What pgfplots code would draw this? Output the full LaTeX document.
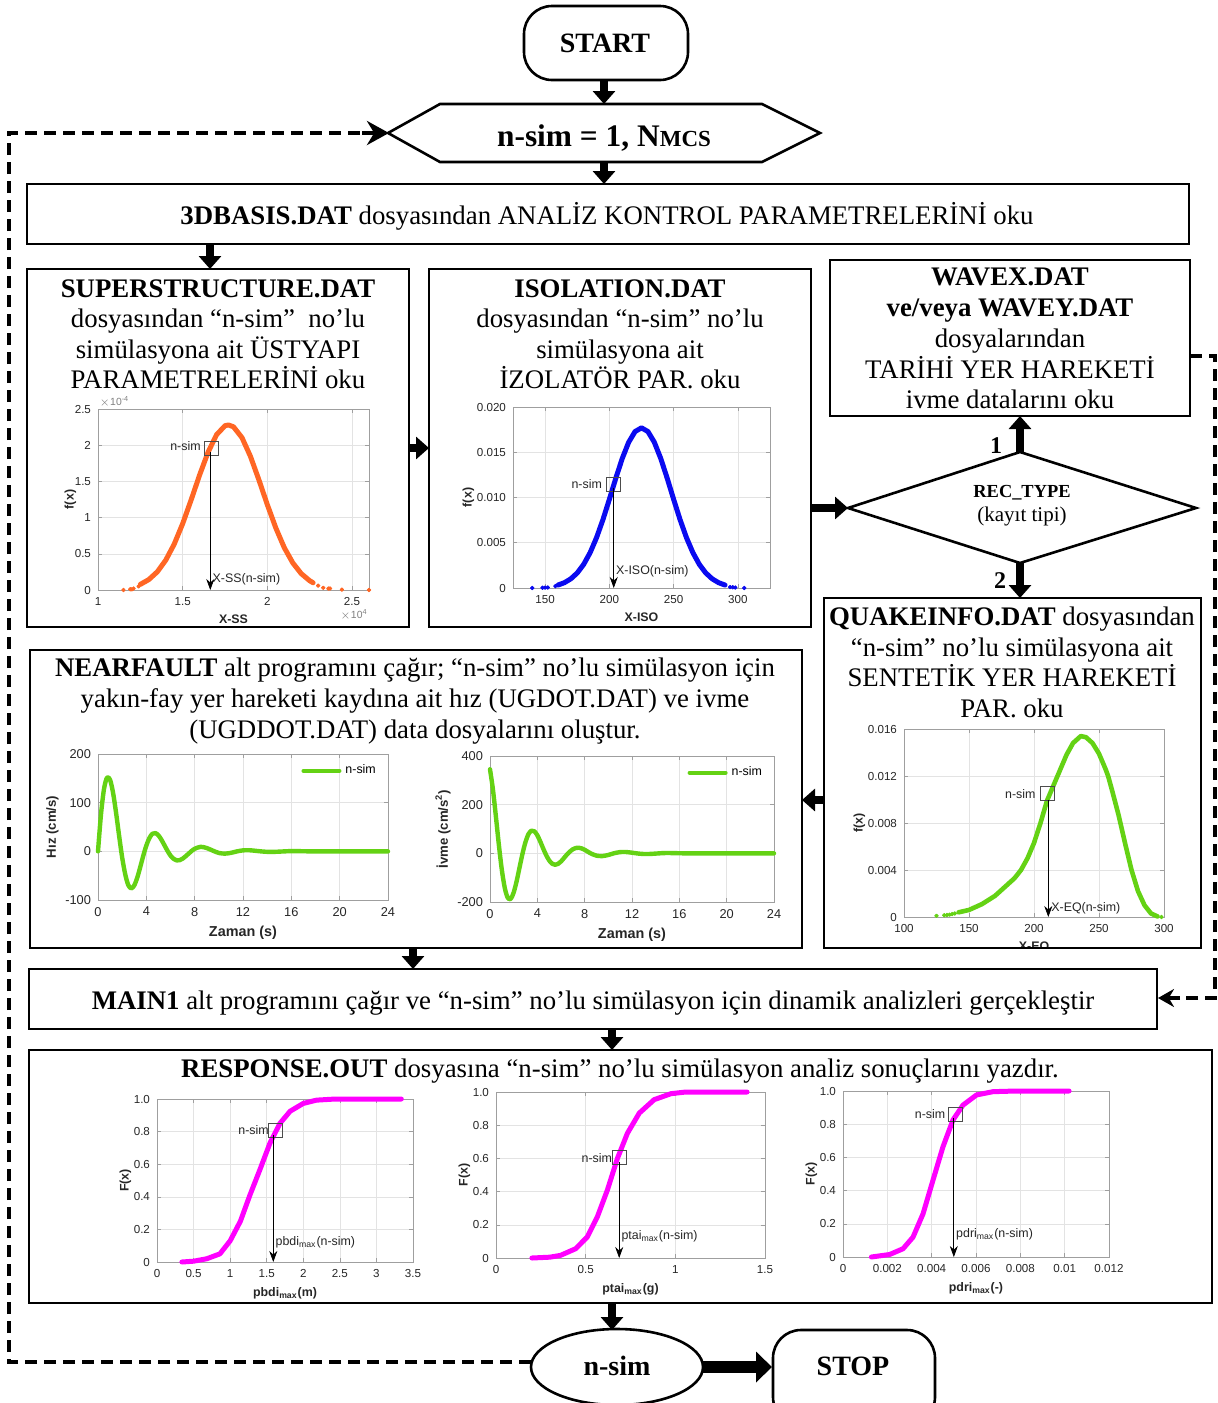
\documentclass[border=0pt]{standalone}
\usepackage{fontspec}
\setmainfont{Liberation Serif}
\newfontfamily\pf{Liberation Sans}
\usepackage{pgfplots}
\pgfplotsset{compat=1.18}
\usetikzlibrary{arrows.meta}

\definecolor{ssor}{RGB}{255,102,36}
\definecolor{isob}{RGB}{10,10,240}
\definecolor{eqg}{RGB}{100,210,20}
\definecolor{cdfm}{RGB}{255,0,255}
\definecolor{tk}{RGB}{38,38,38}

\pgfplotsset{
  mplot/.style={
    scale only axis, clip=false,
    scaled ticks=false,
    axis line style={gray!75, line width=0.4pt},
    grid=major,
    grid style={gray!22, line width=0.3pt},
    major tick style={gray!75, line width=0.3pt},
    tick align=inside,
    major tick length=2pt,
    tick label style={font=\pf\fontsize{5.8}{6.5}\selectfont, text=tk},
    xlabel style={font=\pf\bfseries\fontsize{6.2}{7}\selectfont, text=tk, yshift=2pt},
    ylabel style={font=\pf\bfseries\fontsize{6.2}{7}\selectfont, text=tk, yshift=-5.5pt},
    axis background/.style={fill=white},
    every axis plot/.append style={line join=round, line cap=round},
  },
  thplot/.style={mplot,
    tick label style={font=\pf\fontsize{6.4}{7}\selectfont, text=tk},
    xlabel style={font=\pf\bfseries\fontsize{7.2}{8}\selectfont, text=tk, yshift=0pt},
    ylabel style={font=\pf\bfseries\fontsize{6.6}{7}\selectfont, text=tk, yshift=2pt},
    legend style={draw=none, fill=none, at={(0.98,0.97)}, anchor=north east, font=\pf\fontsize{6.2}{7}\selectfont, inner sep=1pt},
    legend image code/.code={\draw[#1, line width=2pt] (0pt,0pt) -- (18pt,0pt);},
  },
}
\tikzset{
  nsim/.style={draw=gray!60!black, line width=0.35pt, minimum size=7pt, inner sep=0pt},
  nlab/.style={font=\pf\fontsize{6.2}{7}\selectfont, text=tk, inner sep=1pt},
  narr/.style={line width=0.35pt, -{Stealth[width=4pt,length=5.5pt]}},
  bx/.style={draw=black, line width=1.3pt},
  barr/.style={line width=4pt, -{Triangle[width=11pt,length=6.5pt]}},
  dsh/.style={line width=2pt, dash pattern=on 6pt off 3.5pt},
  t13/.style={font=\fontsize{13.4}{15}\selectfont, anchor=base, inner sep=0pt},
}

\begin{document}
\begin{tikzpicture}[x=0.5pt,y=-0.5pt]
\path[use as bounding box] (0,0) rectangle (1217,1403);

% ---------------- SUPERSTRUCTURE pdf ----------------
\begin{axis}[mplot, at={(49pt,-295pt)}, anchor=south west, width=135.5pt, height=90.5pt,
  xmin=1, xmax=2.6, ymin=0, ymax=2.5,
  xtick={1,1.5,2,2.5}, xticklabels={1,1.5,2,2.5},
  ytick={0,0.5,1,1.5,2,2.5}, yticklabels={0,0.5,1,1.5,2,2.5},
  xlabel={X-SS}, ylabel={f(x)}, ylabel style={yshift=-2pt}]
\addplot[ssor, line width=2.5pt] coordinates {
(1.25,0.078) (1.30,0.144) (1.35,0.251) (1.40,0.412) (1.45,0.634) (1.50,0.917)
(1.55,1.245) (1.60,1.589) (1.65,1.904) (1.70,2.145) (1.75,2.269) (1.77,2.28)
(1.80,2.254) (1.85,2.105) (1.90,1.846) (1.95,1.521) (2.00,1.177) (2.05,0.856)
(2.10,0.584) (2.15,0.375) (2.20,0.226) (2.25,0.128) (2.27,0.100)};
\addplot[ssor, only marks, mark=*, mark size=0.9pt] coordinates {
(1.15,0.0) (1.19,0.01) (1.20,0.01) (1.21,0.02) (1.24,0.05) (2.30,0.06) (2.33,0.03)
(2.36,0.02) (2.37,0.02) (2.44,0.005) (2.60,0.0)};
\node[nsim] at (axis cs:1.669,1.957) {};
\node[nlab, anchor=east] at (axis cs:1.62,1.99) {n-sim};
\draw[narr] (axis cs:1.663,1.90) -- (axis cs:1.663,0);
\node[nlab, anchor=west] at (axis cs:1.663,0.15) {X-SS(n-sim)};
\node[font=\pf\fontsize{5.2}{6}\selectfont, text=gray, anchor=south west, inner sep=0.5pt] at (rel axis cs:0,1) {$\times$10\textsuperscript{-4}};
\node[font=\pf\fontsize{5.2}{6}\selectfont, text=gray, anchor=north east, inner sep=0.5pt] at (rel axis cs:1,0) [yshift=-9pt] {$\times$10\textsuperscript{4}};
\end{axis}

% ---------------- ISOLATION pdf ----------------
\begin{axis}[mplot, at={(256.5pt,-294pt)}, anchor=south west, width=128.5pt, height=90.5pt,
  xmin=125, xmax=325, ymin=0, ymax=0.02,
  xtick={150,200,250,300}, xticklabels={150,200,250,300},
  ytick={0,0.005,0.01,0.015,0.02}, yticklabels={0,0.005,0.010,0.015,0.020},
  xlabel={X-ISO}, ylabel={f(x)}]
\addplot[isob, line width=2.5pt] coordinates {
(160,0.000327) (165,0.000589) (170,0.001014) (175,0.001666) (180,0.002611)
(185,0.003903) (190,0.005560) (195,0.007558) (200,0.009802) (205,0.012128)
(210,0.014305) (215,0.016103) (220,0.017288) (225,0.0177) (230,0.017288)
(235,0.016103) (240,0.014305) (245,0.012128) (250,0.009802) (255,0.007558)
(260,0.005560) (265,0.003903) (270,0.002611) (275,0.001666) (280,0.001014)
(285,0.000589) (290,0.000327)};
\addplot[isob, only marks, mark=*, mark size=0.9pt] coordinates {
(140,0.0) (148,0.00003) (150,0.00004) (152,0.00005) (158,0.0002) (294,0.0001)
(296,0.00008) (298,0.00005) (305,0.0)};
\node[nsim] at (axis cs:203,0.0115) {};
\node[nlab, anchor=east] at (axis cs:196,0.0115) {n-sim};
\draw[narr] (axis cs:203.4,0.0110) -- (axis cs:203.4,0);
\node[nlab, anchor=west] at (axis cs:203.4,0.0018) {X-ISO(n-sim)};
\end{axis}

% ---------------- QUAKE pdf ----------------
\begin{axis}[mplot, at={(452pt,-458.5pt)}, anchor=south west, width=130pt, height=94pt,
  xmin=100, xmax=300, ymin=0, ymax=0.016,
  xtick={100,150,200,250,300}, xticklabels={100,150,200,250,300},
  ytick={0,0.004,0.008,0.012,0.016}, yticklabels={0,0.004,0.008,0.012,0.016},
  xlabel={X-EQ}, ylabel={f(x)}]
\addplot[eqg, line width=2.3pt] coordinates {
(142,0.0004) (150,0.0006) (160,0.0011) (170,0.0018) (180,0.0028) (185,0.0033)
(190,0.0040) (195,0.0050) (200,0.0063) (205,0.0080) (210,0.0099) (215,0.0112)
(220,0.0125) (225,0.0138) (230,0.0148) (236,0.0154) (240,0.0153) (245,0.0148)
(250,0.0139) (255,0.0126) (257,0.0120) (260,0.0108) (265,0.0087) (270,0.0063)
(275,0.0040) (280,0.0022) (285,0.0010) (290,0.0003) (295,0.00005)};
\addplot[eqg, only marks, mark=*, mark size=0.9pt] coordinates {
(125,0.0001) (131,0.00015) (133,0.00017) (135,0.0002) (137,0.00025) (139,0.0003) (298,0.0)};
\node[nsim] at (axis cs:210.4,0.0105) {};
\node[nlab, anchor=east] at (axis cs:203,0.0105) {n-sim};
\draw[narr] (axis cs:211,0.0100) -- (axis cs:211,0);
\node[nlab, anchor=west] at (axis cs:211.5,0.0007) {X-EQ(n-sim)};
\end{axis}

% ---------------- velocity ----------------
\begin{axis}[thplot, at={(49pt,-450pt)}, anchor=south west, width=145pt, height=73pt,
  xmin=0, xmax=24, ymin=-100, ymax=200,
  xtick={0,4,8,12,16,20,24}, xticklabels={0,4,8,12,16,20,24},
  ytick={-100,0,100,200}, yticklabels={-100,0,100,200},
  xlabel={Zaman (s)}, ylabel={Hız (cm/s)}]
\addplot[eqg, line width=2.2pt, smooth] coordinates {
(0,0) (0.25,76.7) (0.5,128.6) (0.75,151.6) (1,146.9) (1.25,119.9) (1.5,78.5)
(1.75,31.5) (2,-12.5) (2.25,-46.8) (2.5,-69.0) (2.75,-76.1) (3,-70.0) (3.25,-54.0)
(3.5,-32.0) (3.75,-8.8) (4,11.9) (4.25,27.2) (4.5,36.1) (4.75,37.5) (5,32.9)
(5.25,23.8) (5.5,12.5) (5.75,1.1) (6,-8.7) (6.25,-15.3) (6.5,-18.5) (6.75,-18.3)
(7,-15.2) (7.25,-10.2) (7.5,-4.7) (7.75,0.9) (8,5.3) (8.5,9.3) (9,6.8) (9.5,1.5)
(10,-3.3) (10.5,-4.7) (11,-3.1) (11.5,-0.1) (12,2.0) (12.5,2.3) (13,1.2)
(13.5,-0.1) (14,-1.0) (14.5,-1.1) (15,-0.6) (16,0.5) (17,0.2) (18,-0.2) (19,0)
(24,0)};
\addlegendentry{n-sim}
\end{axis}

% ---------------- acceleration ----------------
\begin{axis}[thplot, at={(245pt,-451pt)}, anchor=south west, width=142pt, height=73pt,
  xmin=0, xmax=24, ymin=-200, ymax=400,
  xtick={0,4,8,12,16,20,24}, xticklabels={0,4,8,12,16,20,24},
  ytick={-200,0,200,400}, yticklabels={-200,0,200,400},
  xlabel={Zaman (s)}, ylabel={İvme (cm/s\textsuperscript{2})}]
\addplot[eqg, line width=2.2pt, smooth] coordinates {
(0,345.4) (0.25,261.7) (0.5,150.8) (0.75,34.5) (1,-68.0) (1.25,-142.5) (1.5,-182.6)
(1.75,-187.1) (2,-161.0) (2.25,-114.5) (2.5,-57.4) (2.75,-0.8) (3,46.7) (3.25,78.9)
(3.5,93.2) (3.75,90.6) (4,74.1) (4.25,48.5) (4.5,19.3) (4.75,-7.5) (5,-29.0)
(5.25,-42.6) (5.5,-47.0) (5.75,-43.2) (6,-33.4) (6.25,-19.4) (6.5,-5.1) (6.75,7.4)
(7,16.7) (7.25,22.0) (7.5,23.1) (7.75,20.2) (8,14.6) (8.5,0.1) (9,-9.5) (9.5,-11.2)
(10,-6.6) (10.5,0.6) (11,5.1) (11.5,5.4) (12,2.6) (12.5,-0.7) (13,-2.7) (13.5,-2.5)
(14,-1.0) (14.5,0.6) (15,1.4) (16,0.4) (17,-0.4) (18,0) (24,0)};
\addlegendentry{n-sim}
\end{axis}

% ---------------- CDF pbdi ----------------
\begin{axis}[mplot, at={(78.5pt,-631pt)}, anchor=south west, width=128pt, height=81.5pt,
  xmin=0, xmax=3.5, ymin=0, ymax=1,
  xtick={0,0.5,1,1.5,2,2.5,3,3.5}, xticklabels={0,0.5,1,1.5,2,2.5,3,3.5},
  ytick={0,0.2,0.4,0.6,0.8,1}, yticklabels={0,0.2,0.4,0.6,0.8,1.0},
  xlabel={pbdi\textsubscript{max}(m)}, ylabel={F(x)}]
\addplot[cdfm, line width=2.5pt] coordinates {
(0.34,0.0) (0.5,0.005) (0.68,0.02) (0.86,0.05) (1.0,0.13) (1.14,0.25) (1.27,0.41)
(1.41,0.57) (1.545,0.73) (1.68,0.85) (1.82,0.925) (2.0,0.973) (2.18,0.993)
(2.4,0.999) (2.6,1.0) (3.34,1.0)};
\node[nsim] at (axis cs:1.618,0.807) {};
\node[nlab, anchor=east] at (axis cs:1.56,0.807) {n-sim};
\draw[narr] (axis cs:1.59,0.78) -- (axis cs:1.59,0);
\node[nlab, anchor=west] at (axis cs:1.59,0.12) {pbdi\textsubscript{max}(n-sim)};
\end{axis}

% ---------------- CDF ptai ----------------
\begin{axis}[mplot, at={(248pt,-629pt)}, anchor=south west, width=134.5pt, height=83pt,
  xmin=0, xmax=1.5, ymin=0, ymax=1,
  xtick={0,0.5,1,1.5}, xticklabels={0,0.5,1,1.5},
  ytick={0,0.2,0.4,0.6,0.8,1}, yticklabels={0,0.2,0.4,0.6,0.8,1.0},
  xlabel={ptai\textsubscript{max}(g)}, ylabel={F(x)}]
\addplot[cdfm, line width=2.5pt] coordinates {
(0.2,0) (0.3,0.005) (0.36,0.016) (0.444,0.056) (0.509,0.127) (0.565,0.248)
(0.621,0.409) (0.677,0.6) (0.733,0.752) (0.799,0.873) (0.882,0.954) (0.976,0.99)
(1.05,0.999) (1.15,1.0) (1.4,1.0)};
\node[nsim] at (axis cs:0.687,0.605) {};
\node[nlab, anchor=east] at (axis cs:0.66,0.605) {n-sim};
\draw[narr] (axis cs:0.687,0.58) -- (axis cs:0.687,0);
\node[nlab, anchor=west] at (axis cs:0.687,0.13) {ptai\textsubscript{max}(n-sim)};
\end{axis}

% ---------------- CDF pdri ----------------
\begin{axis}[mplot, at={(421.5pt,-628.5pt)}, anchor=south west, width=133pt, height=83pt,
  xmin=0, xmax=0.012, ymin=0, ymax=1,
  xtick={0,0.002,0.004,0.006,0.008,0.01,0.012}, xticklabels={0,0.002,0.004,0.006,0.008,0.01,0.012},
  ytick={0,0.2,0.4,0.6,0.8,1}, yticklabels={0,0.2,0.4,0.6,0.8,1.0},
  xlabel={pdri\textsubscript{max}(-)}, ylabel={F(x)}]
\addplot[cdfm, line width=2.5pt] coordinates {
(0.00128,0.0) (0.0021,0.015) (0.00271,0.05) (0.00316,0.12) (0.00361,0.26)
(0.00406,0.463) (0.00451,0.664) (0.00496,0.825) (0.00541,0.915) (0.00602,0.976)
(0.00677,0.996) (0.0078,1.0) (0.0102,1.0)};
\node[nsim] at (axis cs:0.00505,0.861) {};
\node[nlab, anchor=east] at (axis cs:0.00472,0.861) {n-sim};
\draw[narr] (axis cs:0.0050,0.835) -- (axis cs:0.0050,0);
\node[nlab, anchor=west] at (axis cs:0.0050,0.137) {pdri\textsubscript{max}(n-sim)};
\end{axis}

% hide lower part of X-EQ label
\fill[white] (826,949) rectangle (1203,967);

% ---------------- flowchart shapes ----------------
\draw[bx, rounded corners=14pt] (524,6) rectangle (688,80);
\draw[bx] (388,133) -- (440,104) -- (762,104) -- (820,133) -- (762,162) -- (440,162) -- cycle;
\draw[bx] (27,184) rectangle (1189,244);
\draw[bx] (27,269) rectangle (409,627);
\draw[bx] (429,269) rectangle (811,627);
\draw[bx] (830,260) rectangle (1190,416);
\draw[bx] (848,508) -- (1020,452) -- (1196,508) -- (1020,563) -- cycle;
\draw[bx] (824,598) rectangle (1201,948);
\draw[bx] (30,650) rectangle (802,948);
\draw[bx] (29,969) rectangle (1157,1029);
\draw[bx] (29,1050) rectangle (1212,1303);
\draw[bx] (617,1367) ellipse [x radius=43pt, y radius=19pt];
\draw[bx, rounded corners=14pt] (773,1330) rectangle (935,1425);

% ---------------- arrows ----------------
\draw[barr] (604,80) -- (604,104);
\draw[barr] (604,162) -- (604,184);
\draw[barr] (210,244) -- (210,269);
\draw[barr] (409,448) -- (429,448);
\draw[barr] (811,508) -- (848,508);
\draw[barr] (1020,452) -- (1020,416);
\draw[barr] (1020,563) -- (1020,598);
\draw[barr] (824,800) -- (802,800);
\draw[barr] (413,948) -- (413,969);
\draw[barr] (612,1029) -- (612,1050);
\draw[barr] (612,1303) -- (612,1330);
\draw[line width=6pt, -{Triangle[width=15pt,length=8pt]}] (703,1367) -- (772,1367);

\draw[dsh] (531,1362) -- (9,1362) -- (9,133) -- (365,133);
\draw[line width=2pt, -{Stealth[width=12pt,length=11pt]}] (362,133) -- (389,133);
\draw[dsh] (1190,356) -- (1215,356) -- (1215,998) -- (1182,998);
\draw[line width=2pt, -{Stealth[width=9pt,length=8pt]}] (1180,998) -- (1158,998);

% ---------------- texts ----------------
\node[t13, font=\bfseries\fontsize{14}{15}\selectfont] at (605,52) {START};
\node[anchor=base, inner sep=0pt, font=\bfseries\fontsize{15.7}{16}\selectfont] at (604,146) {n-sim = 1, N{\fontsize{11.5}{12}\selectfont MCS}};
\node[t13] at (607,224) {\textbf{3DBASIS.DAT} dosyasından ANALİZ KONTROL PARAMETRELERİNİ oku};

\node[t13] at (218,297) {\textbf{SUPERSTRUCTURE.DAT}};
\node[t13] at (218,327) {dosyasından “n-sim”~ no’lu};
\node[t13] at (218,358) {simülasyona ait ÜSTYAPI};
\node[t13] at (218,388) {PARAMETRELERİNİ oku};

\node[t13] at (620,297) {\textbf{ISOLATION.DAT}};
\node[t13] at (620,327) {dosyasından “n-sim” no’lu};
\node[t13] at (620,358) {simülasyona ait};
\node[t13] at (620,388) {İZOLATÖR PAR. oku};

\node[t13] at (1010,285) {\textbf{WAVEX.DAT}};
\node[t13] at (1010,316) {\textbf{ve/veya WAVEY.DAT}};
\node[t13] at (1010,347) {dosyalarından};
\node[t13] at (1010,378) {TARİHİ YER HAREKETİ};
\node[t13] at (1010,408) {ivme datalarını oku};

\node[anchor=base, inner sep=0pt, font=\bfseries\fontsize{9.2}{10}\selectfont] at (1022,497) {REC\_TYPE};
\node[anchor=base, inner sep=0pt, font=\fontsize{10.5}{11}\selectfont] at (1022,521) {(kayıt tipi)};
\node[anchor=base, inner sep=0pt, font=\bfseries\fontsize{12}{13}\selectfont] at (996,453) {1};
\node[anchor=base, inner sep=0pt, font=\bfseries\fontsize{12}{13}\selectfont] at (1000,588) {2};

\node[t13] at (1012,625) {\textbf{QUAKEINFO.DAT} dosyasından};
\node[t13] at (1012,656) {“n-sim” no’lu simülasyona ait};
\node[t13] at (1012,686) {SENTETİK YER HAREKETİ};
\node[t13] at (1012,717) {PAR. oku};

\node[t13] at (415,676) {\textbf{NEARFAULT} alt programını çağır; “n-sim” no’lu simülasyon için};
\node[t13] at (415,707) {yakın-fay yer hareketi kaydına ait hız (UGDOT.DAT) ve ivme};
\node[t13] at (415,738) {(UGDDOT.DAT) data dosyalarını oluştur.};

\node[t13] at (593,1009) {\textbf{MAIN1} alt programını çağır ve “n-sim” no’lu simülasyon için dinamik analizleri gerçekleştir};
\node[t13] at (620,1077) {\textbf{RESPONSE.OUT} dosyasına “n-sim” no’lu simülasyon analiz sonuçlarını yazdır.};

\node[t13, font=\bfseries\fontsize{14}{15}\selectfont] at (617,1375) {n-sim};
\node[t13, font=\bfseries\fontsize{14}{15}\selectfont] at (853,1375) {STOP};
\end{tikzpicture}
\end{document}
